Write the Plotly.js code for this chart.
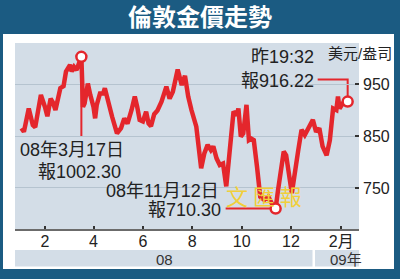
<!DOCTYPE html>
<html><head><meta charset="utf-8">
<script src="https://cdn.plot.ly/plotly-3.0.1.min.js"></script>
<style>html,body{margin:0;padding:0;background:#1b5b82;}#chart{width:400px;height:279px;}</style>
</head><body><div id="chart"></div>
<script>
const dates = ['2008-01-03','2008-01-06','2008-01-12','2008-01-17','2008-01-20','2008-01-27','2008-02-01','2008-02-04','2008-02-08','2008-02-11','2008-02-14','2008-02-17','2008-02-20','2008-02-24','2008-02-27','2008-03-03','2008-03-05','2008-03-08','2008-03-11','2008-03-17','2008-03-19','2008-03-21','2008-03-25','2008-03-28','2008-04-01','2008-04-03','2008-04-05','2008-04-09','2008-04-13','2008-04-15','2008-04-19','2008-04-24','2008-04-30','2008-05-05','2008-05-09','2008-05-13','2008-05-18','2008-05-22','2008-05-25','2008-05-28','2008-06-01','2008-06-05','2008-06-08','2008-06-11','2008-06-15','2008-06-19','2008-06-24','2008-06-30','2008-07-04','2008-07-08','2008-07-14','2008-07-17','2008-07-19','2008-07-23','2008-07-27','2008-07-31','2008-08-06','2008-08-12','2008-08-16','2008-08-20','2008-08-24','2008-08-27','2008-08-31','2008-09-04','2008-09-08','2008-09-12','2008-09-16','2008-09-21','2008-09-25','2008-09-27','2008-09-30','2008-10-03','2008-10-07','2008-10-10','2008-10-13','2008-10-16','2008-10-20','2008-10-24','2008-10-29','2008-11-03','2008-11-07','2008-11-12','2008-11-15','2008-11-19','2008-11-22','2008-11-25','2008-11-29','2008-12-02','2008-12-10','2008-12-14','2008-12-18','2008-12-24','2008-12-28','2009-01-01','2009-01-05','2009-01-09','2009-01-14','2009-01-18','2009-01-22','2009-01-26','2009-01-28','2009-01-30','2009-02-03','2009-02-09'];
const prices = [865,858,903,871,867,929,906,888,922,914,900,919,942,946,974,987,974,983,977,1002.30,906,913,951,929,906,884,910,932,932,942,916,887,855,865,884,874,900,926,906,881,878,897,874,869,892,899,916,945,922,935,978,964,948,966,926,900,868,788,817,833,823,830,807,794,797,753,823,897,890,903,849,855,910,842,845,842,791,733,727,733,721,710.30,746,791,820,813,772,740,823,862,852,871,881,858,865,830,813,842,903,900,926,903,913,916.22];
const xTickVals = ['2008-02-01','2008-04-01','2008-06-01','2008-08-01','2008-10-01','2008-12-01','2009-02-01'];
const xTickText = ['2','4','6','8','10','12','2月'];
const yTickVals = [750, 850, 950];
const yearLabels = ['08', '09年'];
const titleText = '倫敦金價走勢';
const unitText = '美元/盎司';
const peakDateText = '08年3月17日';
const lowDateText = '08年11月12日';
const lastTimeText = '昨19:32';
const watermark = '文 匯 報';

const W=400,H=279,L=15,R=41,T=43,B=50;
const pw=W-L-R, ph=H-T-B;
const px = x => (x-L)/pw;
const py = y => (H-B-y)/ph;

let iMax=0,iMin=0;
prices.forEach((v,i)=>{ if(v>prices[iMax]) iMax=i; if(v<prices[iMin]) iMin=i; });
const iLast = prices.length-1;
const red = '#e4262c';
const cjk = 'Liberation Sans, Noto Sans CJK TC, sans-serif';

const traces = [
  {x: dates, y: prices, type:'scatter', mode:'lines', line:{color:red, width:4.5}, hoverinfo:'skip'},
  {x: [dates[iMax], dates[iMin], dates[iLast]], y: [prices[iMax], prices[iMin], prices[iLast]], type:'scatter', mode:'markers',
   marker:{size:10, color:'#ffffff', line:{color:red, width:2.5}}, hoverinfo:'skip'}
];

const bg = '#d3dde7';
const shapes = [
  {type:'rect', xref:'paper', yref:'paper', x0:px(3), x1:px(394), y0:py(269), y1:py(34), fillcolor:'#ffffff', line:{width:0}, layer:'below'},
  {type:'rect', xref:'paper', yref:'paper', x0:0, x1:1, y0:0, y1:1, fillcolor:bg, line:{width:0}, layer:'below'},
  {type:'rect', xref:'paper', yref:'paper', x0:0, x1:px(312.5), y0:py(266.5), y1:py(250), fillcolor:bg, line:{width:0}, layer:'below'},
  {type:'rect', xref:'paper', yref:'paper', x0:px(315), x1:1, y0:py(266.5), y1:py(250), fillcolor:bg, line:{width:0}, layer:'below'},
  {type:'path', xref:'x', yref:'y', xsizemode:'pixel', ysizemode:'pixel', xanchor:dates[iMax], yanchor:prices[iMax],
   path:'M 0,0 L 0,-80', line:{color:red, width:2}, layer:'below'},
  {type:'path', xref:'x', yref:'y', xsizemode:'pixel', ysizemode:'pixel', xanchor:dates[iMin], yanchor:prices[iMin],
   path:'M -50,0 L 0,0', line:{color:red, width:2}, layer:'below'},
  {type:'path', xref:'x', yref:'y', xsizemode:'pixel', ysizemode:'pixel', xanchor:dates[iLast], yanchor:prices[iLast],
   path:'M -30,22 L 0,22 L 0,0', line:{color:red, width:2}, layer:'below'}
];

const ann = (text, x, y, xanchor, size, color, extra) => Object.assign({
  text, xref:'paper', yref:'paper', x:px(x), y:py(y), xanchor, yanchor:'middle', showarrow:false,
  font:{family:cjk, size, color}
}, extra||{});

const annotations = [
  ann(peakDateText, 18, 150, 'left', 18, '#222'),
  ann('報' + prices[iMax].toFixed(2), 123, 172, 'right', 18, '#222'),
  ann(lowDateText, 221, 191, 'right', 18, '#222'),
  ann('報' + prices[iMin].toFixed(2), 223, 210, 'right', 18, '#222'),
  ann(lastTimeText, 316, 57, 'right', 18, '#222'),
  ann('報' + prices[iLast].toFixed(2), 316, 81, 'right', 18, '#222'),
  ann(unitText, 394, 54, 'right', 15, '#222'),
  ann(watermark, 264, 195, 'center', 22, '#f1cf3a', {font:{family:'Noto Sans CJK TC', size:22, color:'#f1cf3a'}}),
  ann(yearLabels[0], 164, 259, 'center', 15, '#333'),
  ann(yearLabels[1], 346, 259, 'center', 15, '#333')
];

const layout = {
  width:W, height:H,
  margin:{l:L, r:R, t:T, b:B, pad:0},
  paper_bgcolor:'#1b5b82', plot_bgcolor:'rgba(0,0,0,0)',
  showlegend:false,
  title:{text:titleText, font:{family:'Noto Sans CJK TC', size:24, color:'#ffffff', weight:700},
         x:0.5, xref:'container', xanchor:'center', y:1-18/H, yref:'container', yanchor:'middle'},
  xaxis:{type:'date', range:['2007-12-26','2009-02-23'], tickvals:xTickVals, ticktext:xTickText,
         ticks:'inside', ticklen:3, tickwidth:2, tickcolor:'#333', showgrid:false, zeroline:false,
         showline:true, linecolor:'#6b6b6b', linewidth:1.5, ticklabelstandoff:-3,
         tickfont:{family:cjk, size:16, color:'#222'}, fixedrange:true},
  yaxis:{side:'right', range:[671,1029], tickvals:yTickVals, ticks:'inside', ticklen:4, tickwidth:1.5, tickcolor:'#333',
         showgrid:true, gridcolor:'#b5c3cf', gridwidth:1, zeroline:false, showline:false,
         tickfont:{family:'Liberation Sans', size:16, color:'#222'}, ticklabelstandoff:3, fixedrange:true},
  shapes, annotations
};
Plotly.newPlot('chart', traces, layout, {staticPlot:true, displayModeBar:false});
</script>
</body></html>
